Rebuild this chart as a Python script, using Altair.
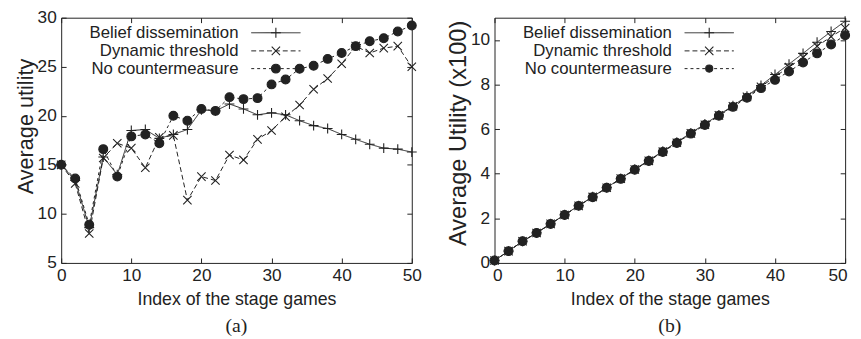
import altair as alt
import pandas as pd

# ---------------- data ----------------
stage_index = list(range(0, 51, 2))
series_names = ["Belief dissemination", "Dynamic threshold", "No countermeasure"]

# panel (a): average utility
a_belief = [15.0, 13.4, 8.6, 15.8, 14.0, 18.5, 18.6, 17.7, 18.1, 18.6, 20.6, 20.5, 21.2,
            20.7, 20.1, 20.3, 20.1, 19.5, 19.0, 18.7, 18.1, 17.6, 17.1, 16.7, 16.6, 16.3]
a_dynamic = [15.0, 13.1, 8.0, 15.7, 17.2, 16.7, 14.7, 17.8, 18.0, 11.4, 13.8, 13.4, 16.0,
             15.5, 17.6, 18.5, 19.9, 21.1, 22.7, 23.8, 25.3, 27.1, 26.4, 26.9, 27.1, 25.0]
a_none = [15.0, 13.6, 8.9, 16.6, 13.8, 17.9, 18.1, 17.2, 20.0, 19.5, 20.7, 20.5, 21.9,
          21.7, 21.8, 23.2, 23.7, 24.8, 25.1, 25.8, 26.4, 27.1, 27.6, 27.9, 28.6, 29.2]

# panel (b): average utility (x100)
b_belief = [0.11, 0.53, 0.97, 1.35, 1.76, 2.16, 2.57, 2.97, 3.38, 3.79, 4.20, 4.60, 5.01,
            5.42, 5.83, 6.23, 6.64, 7.05, 7.48, 7.96, 8.45, 8.92, 9.40, 9.90, 10.38, 10.84]
b_dynamic = [0.11, 0.53, 0.97, 1.34, 1.75, 2.15, 2.56, 2.96, 3.37, 3.78, 4.19, 4.58, 4.99,
             5.39, 5.81, 6.20, 6.62, 7.03, 7.45, 7.90, 8.36, 8.78, 9.22, 9.72, 10.15, 10.54]
b_none = [0.11, 0.53, 0.97, 1.34, 1.75, 2.15, 2.56, 2.95, 3.37, 3.77, 4.18, 4.57, 4.98,
          5.38, 5.80, 6.19, 6.60, 7.00, 7.41, 7.84, 8.21, 8.59, 8.99, 9.40, 9.80, 10.21]

x_ticks = [0, 10, 20, 30, 40, 50]
a_y_ticks = [5, 10, 15, 20, 25, 30]
b_y_ticks = [0, 2, 4, 6, 8, 10]

# ---------------- styling ----------------
INK = "#222222"
FONT = "Liberation Sans"
PLUS = "M-1,0L1,0M0,-1L0,1"
CROSS = "M-0.85,-0.85L0.85,0.85M-0.85,0.85L0.85,-0.85"


def dot(r):
    return f"M-{r},0A{r},{r} 0 1,0 {r},0A{r},{r} 0 1,0 -{r},0Z"


DASHES = [[1, 0], [5, 3], [3, 3]]
W, H = 356, 249
LEG_Y = [15.3, 33.7, 51.7]
MARK_SIZE = 100


def make_panel(values, y_domain, y_ticks, y_title, title_size, title_y, caption, dot_r,
               flush):
    rows = []
    for name, vals in zip(series_names, values):
        for xv, yv in zip(stage_index, vals):
            rows.append({"stage": xv, "utility": yv, "series": name})
    df = pd.DataFrame(rows)

    shapes = [PLUS, CROSS, dot(dot_r)]
    xs = alt.Scale(domain=[0, 50], nice=False, zero=False)
    ys = alt.Scale(domain=y_domain, nice=False, zero=False)

    x_axis_kw = dict(orient="bottom", values=x_ticks, offset=-5, labelPadding=4,
                     title="Index of the stage games", titlePadding=7)
    if flush:
        x_axis_kw.update(labelFlush=True, labelFlushOffset=2)
    else:
        x_axis_kw.update(labelFlush=False)

    lines = alt.Chart(df).mark_line(color=INK, strokeWidth=1).encode(
        x=alt.X("stage:Q", scale=xs, axis=alt.Axis(**x_axis_kw)),
        y=alt.Y("utility:Q", scale=ys,
                axis=alt.Axis(orient="left", values=y_ticks, offset=-5, labelPadding=5,
                              title=y_title, titleFontSize=title_size, titlePadding=0,
                              titleY=title_y)),
        strokeDash=alt.StrokeDash("series:N", scale=alt.Scale(domain=series_names, range=DASHES),
                                  legend=None),
        detail="series:N",
    )
    points = alt.Chart(df).mark_point(filled=True, fill=INK, stroke=INK, strokeWidth=1.1,
                                      opacity=1, size=MARK_SIZE).encode(
        x=alt.X("stage:Q", scale=xs,
                axis=alt.Axis(orient="top", values=x_ticks, offset=-5, labels=False, title=None)),
        y=alt.Y("utility:Q", scale=ys,
                axis=alt.Axis(orient="right", values=y_ticks, offset=-5, labels=False, title=None)),
        shape=alt.Shape("series:N", scale=alt.Scale(domain=series_names, range=shapes), legend=None),
    )

    legend_layers = []
    for i, name in enumerate(series_names):
        one = pd.DataFrame({"series": [name]})
        legend_layers.append(
            alt.Chart(one).mark_text(align="right", baseline="middle", font=FONT, fontSize=17,
                                     color=INK).encode(
                text="series:N", x=alt.value(180), y=alt.value(LEG_Y[i])))
        legend_layers.append(
            alt.Chart(one).mark_rule(color=INK, strokeWidth=1, strokeDash=DASHES[i]).encode(
                x=alt.value(193), x2=alt.value(243), y=alt.value(LEG_Y[i])))
        legend_layers.append(
            alt.Chart(one).mark_point(shape=shapes[i], size=MARK_SIZE, filled=True, fill=INK,
                                      stroke=INK, strokeWidth=1.1, opacity=1).encode(
                x=alt.value(218), y=alt.value(LEG_Y[i])))

    return alt.layer(lines, points, *legend_layers).resolve_axis(
        x="independent", y="independent"
    ).properties(
        width=W, height=H,
        title=alt.TitleParams(caption, orient="bottom", anchor="middle", frame="group",
                              font="Liberation Serif", fontSize=20, fontWeight="normal",
                              color=INK, offset=8),
    )


left = make_panel([a_belief, a_dynamic, a_none], [5, 30], a_y_ticks, "Average utility",
                  22, 110, "(a)", 0.9, False)
right = make_panel([b_belief, b_dynamic, b_none], [0, 11], b_y_ticks, "Average Utility (x100)",
                   24, 117, "(b)", 0.72, True)

chart = alt.hconcat(left, right, spacing=84, bounds="flush").properties(
    padding={"left": 6, "top": -2.7, "right": 0, "bottom": 0},
    background="white",
).configure_view(
    stroke=INK, strokeWidth=1
).configure_axis(
    domain=False, grid=False, ticks=True, tickSize=5, tickColor=INK, tickWidth=1,
    labelFont=FONT, labelFontSize=17.5, labelColor=INK,
    titleFont=FONT, titleFontSize=18, titleFontWeight="normal", titleColor=INK,
)

chart.save("out.html", embed_options={"renderer": "svg", "actions": False})
